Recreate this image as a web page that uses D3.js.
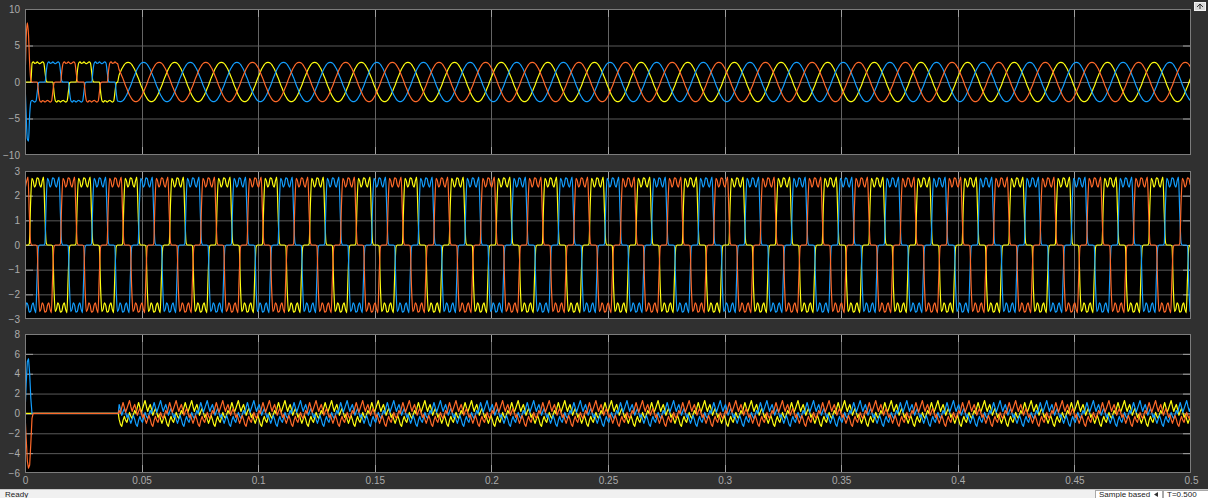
<!DOCTYPE html>
<html>
<head>
<meta charset="utf-8">
<script src="https://cdn.jsdelivr.net/npm/d3@7/dist/d3.min.js"></script>
<style>
  body{margin:0;background:#303030;overflow:hidden}
  svg{display:block;font-family:"Liberation Sans",Arial,sans-serif}
</style>
</head>
<body>
<script>
// Scope capture: 3 stacked axes, phases a/b/c

var timeTicks = [0,0.05,0.1,0.15,0.2,0.25,0.3,0.35,0.4,0.45,0.5];
var ticks1 = [10,5,0,-5,-10];
var ticks2 = [3,2,1,0,-1,-2,-3];
var ticks3 = [8,6,4,2,0,-2,-4,-6];

var phases = ['a','b','c'];
var phaseLag = [0,12,24];        // in samples of 10 deg, behind phase a
var period = 0.02;               // 50 Hz

// one period each, 36 samples (10 deg), phase a
var blockStart = [1.6,2.6,2.75,2.55,2.6,2.75,2.6,2.5,2.65,2.75,2.6,1.3,
                  0.1,0,0,0,0,0,
                  -1.6,-2.6,-2.75,-2.55,-2.6,-2.75,-2.6,-2.5,-2.65,-2.75,-2.6,-1.3,
                  -0.1,0,0,0,0,0];
var sineRun = [0,0.5,0.9,1.35,1.75,2.05,2.35,2.55,2.65,2.7,2.65,2.55,2.35,2.05,1.75,1.35,0.9,0.5,
               0,-0.5,-0.9,-1.35,-1.75,-2.05,-2.35,-2.55,-2.65,-2.7,-2.65,-2.55,-2.35,-2.05,-1.75,-1.35,-0.9,-0.5];
var blockRun = [1.7,2.7,2.6,2.35,2.45,2.72,2.7,2.45,2.35,2.6,2.75,1.3,
                0.1,0,0,0,0,-0.05,
                -1.7,-2.7,-2.6,-2.35,-2.45,-2.72,-2.7,-2.45,-2.35,-2.6,-2.75,-1.3,
                -0.1,0,0,0,0,0.05];
var rippleRun = [0,0.6,1.1,0.6,0.1,0.5,0.9,1.3,0.7,0.2,0.6,0.9,
                 0.4,-0.2,0.2,0.5,0.1,-0.4,-0.1,-0.6,-1.0,-0.6,-0.2,-0.6,
                 -1.1,-1.3,-0.7,-0.3,-0.7,-0.9,-0.4,0.1,-0.3,-0.5,-0.1,0.3];

// start-up transients
var startTimes1 = [0,0.0005,0.001,0.0015,0.002,0.0025];
var start1 = {a:[0,0,0,0,0,0], b:[0,-4.5,-7.8,-8.1,-4.5,-2.7], c:[0,6,8.1,6.5,2.5,0.3]};
var startTimes3 = [0,0.0005,0.001,0.0015,0.002,0.0025,0.003,0.0035];
var start3 = {a:[0,0,0,0,0,0,0,0], b:[0,3,5.2,5.5,4,1.5,0,0], c:[0,-2.5,-4.8,-5.5,-5.2,-3,-0.5,0]};

var blockOrigin1 = 0.0025, switchTime = 0.04, sineOrigin = 0.0392;
var blockOrigin2 = 0.0024, rippleOrigin = 0.0076;

var colors = {a:'#ffff11', b:'#139fff', c:'#ff6929'};

var width = 1208, height = 498,
    plotLeft = 25, plotRight = 1191;
var panels = [
  {top:9, bottom:155, domain:[-10,10], ticks:ticks1, curve:d3.curveMonotoneX},
  {top:171, bottom:319, domain:[-3,3], ticks:ticks2, curve:d3.curveMonotoneX},
  {top:334, bottom:473, domain:[-6,8], ticks:ticks3, curve:d3.curveLinear}
];

function tiled(shape, lag, origin, t1, t2){
  var n = shape.length, dt = period/n, pts = [];
  var i0 = Math.ceil((t1-origin)/dt - 1e-9), i1 = Math.floor((t2-origin)/dt + 1e-9);
  for (var i=i0;i<=i1;i++){
    var k = (((i-lag)%n)+n)%n;
    pts.push([origin+i*dt, shape[k]]);
  }
  return pts;
}

function series1(p, j){
  var pts = startTimes1.map(function(t,i){return [t, start1[p][i]];});
  pts = pts.concat(tiled(blockStart, phaseLag[j], blockOrigin1, blockOrigin1+0.0001, switchTime));
  return pts.concat(tiled(sineRun, phaseLag[j], sineOrigin, switchTime, 0.5));
}
function series2(p, j){
  return tiled(blockRun, phaseLag[j], blockOrigin2, 0, 0.5);
}
function series3(p, j){
  var pts = startTimes3.map(function(t,i){return [t, start3[p][i]];});
  pts.push([switchTime, 0]);
  return pts.concat(tiled(rippleRun, phaseLag[j], rippleOrigin, switchTime+0.0001, 0.5));
}
panels[0].series = series1;
panels[1].series = series2;
panels[2].series = series3;

var svg = d3.select('body').append('svg')
  .attr('width',width)
  .attr('height',height);

var xScale = d3.scaleLinear().domain([0,0.5]).range([plotLeft,plotRight]);
var fmt = d3.format('~g');

panels.forEach(function(pn, idx){
  var yScale = d3.scaleLinear().domain(pn.domain).range([pn.bottom,pn.top]);
  var g = svg.append('g');

  g.append('rect')
    .attr('x',plotLeft).attr('y',pn.top)
    .attr('width',plotRight-plotLeft).attr('height',pn.bottom-pn.top)
    .attr('fill','#000');

  // grid
  var inner = pn.ticks.filter(function(v){return v!==pn.domain[0] && v!==pn.domain[1];});
  g.selectAll('.hg').data(inner).enter().append('line')
    .attr('x1',plotLeft).attr('x2',plotRight)
    .attr('y1',function(d){return yScale(d)+0.5;}).attr('y2',function(d){return yScale(d)+0.5;})
    .attr('stroke','#5a5a5a');
  var vt = timeTicks.slice(1,-1);
  g.selectAll('.vg').data(vt).enter().append('line')
    .attr('x1',function(d){return Math.round(xScale(d))+0.5;}).attr('x2',function(d){return Math.round(xScale(d))+0.5;})
    .attr('y1',pn.top).attr('y2',pn.bottom)
    .attr('stroke','#646464');
  // tick marks inside the box
  [[plotLeft,8],[plotRight,-8]].forEach(function(s){
    g.selectAll(null).data(inner).enter().append('line')
      .attr('x1',s[0]).attr('x2',s[0]+s[1])
      .attr('y1',function(d){return yScale(d)+0.5;}).attr('y2',function(d){return yScale(d)+0.5;})
      .attr('stroke','#a0a0a0');
  });
  [[pn.top,8],[pn.bottom,-8]].forEach(function(s){
    g.selectAll(null).data(vt).enter().append('line')
      .attr('y1',s[0]).attr('y2',s[0]+s[1])
      .attr('x1',function(d){return Math.round(xScale(d))+0.5;}).attr('x2',function(d){return Math.round(xScale(d))+0.5;})
      .attr('stroke','#a0a0a0');
  });

  // traces
  var clipId = 'clip'+idx;
  g.append('clipPath').attr('id',clipId).append('rect')
    .attr('x',plotLeft).attr('y',pn.top)
    .attr('width',plotRight-plotLeft).attr('height',pn.bottom-pn.top);
  var line = d3.line()
    .curve(pn.curve)
    .x(function(d){return xScale(d[0]);})
    .y(function(d){return yScale(d[1]);});
  phases.forEach(function(p, j){
    g.append('path')
      .attr('clip-path','url(#'+clipId+')')
      .attr('d',line(pn.series(p,j)))
      .attr('fill','none')
      .attr('stroke',colors[p])
      .attr('stroke-width',1.2)
      .attr('stroke-linejoin','round');
  });

  g.append('rect')
    .attr('x',plotLeft+0.5).attr('y',pn.top+0.5)
    .attr('width',plotRight-plotLeft-1).attr('height',pn.bottom-pn.top-1)
    .attr('fill','none').attr('stroke','#7c7c7c');

  var yAxis = g.append('g')
    .attr('transform','translate('+plotLeft+',0)')
    .call(d3.axisLeft(yScale).tickValues(pn.ticks).tickFormat(fmt).tickSize(0).tickPadding(5));
  yAxis.select('.domain').remove();
  yAxis.selectAll('text').attr('fill','#ababab').style('font-size','10px');

  if (idx===2){
    var xAxis = g.append('g')
      .attr('transform','translate(0,'+pn.bottom+')')
      .call(d3.axisBottom(xScale).tickValues(timeTicks).tickFormat(fmt).tickSize(0).tickPadding(4));
    xAxis.select('.domain').remove();
    xAxis.selectAll('text').attr('fill','#ababab').style('font-size','10px');
  }
});

// top-right restore button
svg.append('rect').attr('x',1194.5).attr('y',2.5).attr('width',11).attr('height',8)
  .attr('fill','#d9d9d9').attr('stroke','#f2f2f2');
svg.append('path').attr('d','M1197,7 L1200,4 L1203,7 M1200,4 L1200,9')
  .attr('stroke','#333').attr('fill','none');

// status bar
svg.append('rect').attr('x',0).attr('y',490).attr('width',width).attr('height',8)
  .attr('fill','#f0f0f0');
svg.append('line').attr('x1',0).attr('x2',width).attr('y1',489.5).attr('y2',489.5)
  .attr('stroke','#c8c8c8');
svg.append('text').attr('x',5).attr('y',497).text('Ready')
  .attr('fill','#222').style('font-size','8px');
svg.append('rect').attr('x',1095.5).attr('y',490.5).attr('width',67).attr('height',9)
  .attr('fill','#fff').attr('stroke','#a8a8a8');
svg.append('text').attr('x',1099).attr('y',497).text('Sample based')
  .attr('fill','#222').style('font-size','8px');
svg.append('path').attr('d','M1158,492 L1154,494.5 L1158,497 Z').attr('fill','#333');
svg.append('rect').attr('x',1163.5).attr('y',490.5).attr('width',45).attr('height',9)
  .attr('fill','#fff').attr('stroke','#a8a8a8');
svg.append('text').attr('x',1167).attr('y',497).text('T=0.500')
  .attr('fill','#222').style('font-size','8px');
</script>
</body>
</html>
